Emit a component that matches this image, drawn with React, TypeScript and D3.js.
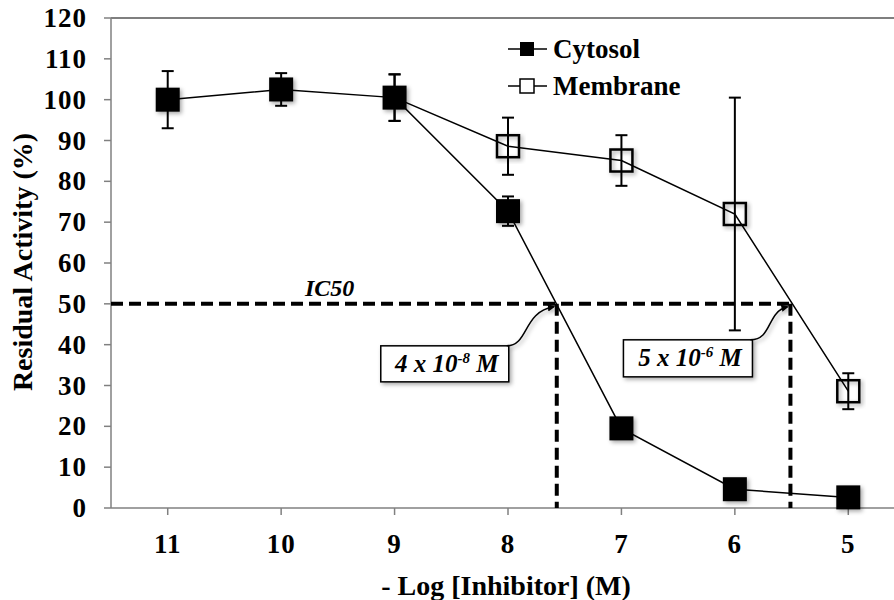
import * as d3 from "d3";

const logConc = [11, 10, 9, 8, 7, 6, 5];
const cytosol = [100, 102.5, 100.5, 72.7, 19.5, 4.6, 2.6];
const cytosolErr = [7, 4, 5.7, 3.6, 1.5, 1, 1];
const membraneX = [9, 8, 7, 6, 5];
const membrane = [100.5, 88.6, 85.1, 72, 28.6];
const membraneErr = [5.7, 7, 6.2, 28.5, 4.4];
const yTicks = [0, 10, 20, 30, 40, 50, 60, 70, 80, 90, 100, 110, 120];
const ic50Level = 50;
const ic50X = [7.57, 5.51];
const ic50Labels = [
  { base: "4 x 10", exp: "-8", unit: " M" },
  { base: "5 x 10", exp: "-6", unit: " M" },
];

const W = 894;
const H = 600;
const FONT = "'Liberation Serif', 'Times New Roman', serif";

export default function App() {
  const x = d3.scaleLinear().domain([11.5, 4.5]).range([111, 905]);
  const y = d3.scaleLinear().domain([0, 120]).range([508, 18]);

  const line = d3
    .line<[number, number]>()
    .x((d) => x(d[0]))
    .y((d) => y(d[1]));

  const cytoPts: [number, number][] = logConc.map((c, i) => [c, cytosol[i]]);
  const memPts: [number, number][] = membraneX.map((c, i) => [c, membrane[i]]);

  const y50 = y(ic50Level);
  const sq = 24;
  const sqM = 22;

  // annotation box offsets relative to the IC50 point
  const boxes = [
    { w: 128, h: 36, dx: -176, dy: 42 },
    { w: 129, h: 37, dx: -167, dy: 36 },
  ];

  return (
    <svg width={W} height={H} style={{ position: "absolute", left: 0, top: 0 }}>
      <defs>
        <filter id="shadow" x="-30%" y="-30%" width="160%" height="160%">
          <feDropShadow dx="2" dy="2" stdDeviation="2" floodColor="#000" floodOpacity="0.35" />
        </filter>
        <marker id="arrow" viewBox="0 0 10 10" refX="8" refY="5" markerWidth="5" markerHeight="5" orient="auto">
          <path d="M0,0 L10,5 L0,10 z" fill="#000" />
        </marker>
      </defs>
      <rect width={W} height={H} fill="#fff" />

      {/* axes */}
      <line x1={111} x2={W} y1={y(120)} y2={y(120)} stroke="#555" strokeWidth={1.5} />
      <line x1={111} x2={111} y1={y(120)} y2={y(0)} stroke="#808080" strokeWidth={1.5} />
      <line x1={111} x2={W} y1={y(0)} y2={y(0)} stroke="#808080" strokeWidth={1.5} />
      {yTicks.map((t) => (
        <g key={t}>
          <line x1={104} x2={111} y1={y(t)} y2={y(t)} stroke="#808080" strokeWidth={1.5} />
          <text
            x={87}
            y={y(t) + 9}
            textAnchor="end"
            fontFamily={FONT}
            fontWeight="bold"
            fontSize={27}
            letterSpacing={1}
          >
            {t}
          </text>
        </g>
      ))}
      {logConc.map((c) => (
        <g key={c}>
          <line x1={x(c)} x2={x(c)} y1={y(0)} y2={y(0) + 7} stroke="#808080" strokeWidth={1.5} />
          <text
            x={x(c)}
            y={553}
            textAnchor="middle"
            fontFamily={FONT}
            fontWeight="bold"
            fontSize={27}
            letterSpacing={1}
          >
            {c}
          </text>
        </g>
      ))}
      <text x={506} y={595} textAnchor="middle" fontFamily={FONT} fontWeight="bold" fontSize={28}>
        - Log [Inhibitor] (M)
      </text>
      <text
        transform={`translate(32,${262}) rotate(-90)`}
        textAnchor="middle"
        fontFamily={FONT}
        fontWeight="bold"
        fontSize={28}
      >
        Residual Activity (%)
      </text>

      {/* IC50 guide lines */}
      <line
        x1={111}
        x2={x(d3.min(ic50X)!)}
        y1={y50}
        y2={y50}
        stroke="#000"
        strokeWidth={4}
        strokeDasharray="12 6"
      />
      {ic50X.map((v) => (
        <line
          key={v}
          x1={x(v)}
          x2={x(v)}
          y1={y50}
          y2={y(0)}
          stroke="#000"
          strokeWidth={4}
          strokeDasharray="12 6"
        />
      ))}
      <text x={305} y={y50 - 8} fontFamily={FONT} fontStyle="italic" fontWeight="bold" fontSize={24}>
        IC50
      </text>

      {/* series lines */}
      <path d={line(cytoPts)!} fill="none" stroke="#000" strokeWidth={1.5} />
      <path d={line(memPts)!} fill="none" stroke="#000" strokeWidth={1.5} />

      {/* membrane error bars + markers */}
      {membraneX.map((c, i) => {
        const cx = x(c);
        const e = membraneErr[i];
        return (
          <g key={"m" + c}>
            <line x1={cx} x2={cx} y1={y(membrane[i] + e)} y2={y(membrane[i] - e)} stroke="#000" strokeWidth={2} />
            <line x1={cx - 6} x2={cx + 6} y1={y(membrane[i] + e)} y2={y(membrane[i] + e)} stroke="#000" strokeWidth={2} />
            <line x1={cx - 6} x2={cx + 6} y1={y(membrane[i] - e)} y2={y(membrane[i] - e)} stroke="#000" strokeWidth={2} />
            {c !== 9 && (
              <rect
                x={cx - sqM / 2}
                y={y(membrane[i]) - sqM / 2}
                width={sqM}
                height={sqM}
                fill="none"
                stroke="#000"
                strokeWidth={2.5}
                filter="url(#shadow)"
              />
            )}
          </g>
        );
      })}

      {/* cytosol error bars + markers */}
      {logConc.map((c, i) => {
        const cx = x(c);
        const e = cytosolErr[i];
        return (
          <g key={"c" + c}>
            <line x1={cx} x2={cx} y1={y(cytosol[i] + e)} y2={y(cytosol[i] - e)} stroke="#000" strokeWidth={2} />
            <line x1={cx - 6} x2={cx + 6} y1={y(cytosol[i] + e)} y2={y(cytosol[i] + e)} stroke="#000" strokeWidth={2} />
            <line x1={cx - 6} x2={cx + 6} y1={y(cytosol[i] - e)} y2={y(cytosol[i] - e)} stroke="#000" strokeWidth={2} />
            <rect
              x={cx - sq / 2}
              y={y(cytosol[i]) - sq / 2}
              width={sq}
              height={sq}
              fill="#000"
              filter="url(#shadow)"
            />
          </g>
        );
      })}

      {/* IC50 annotation boxes */}
      {ic50X.map((v, i) => {
        const tx = x(v);
        const b = boxes[i];
        const bx = tx + b.dx;
        const by = y50 + b.dy;
        const sx = bx + b.w - 2;
        const sy = by;
        const lab = ic50Labels[i];
        return (
          <g key={"a" + v}>
            <rect x={bx} y={by} width={b.w} height={b.h} fill="#fff" stroke="#000" strokeWidth={1.5} filter="url(#shadow)" />
            <text
              x={bx + b.w / 2 + 2}
              y={by + b.h / 2 + 8}
              textAnchor="middle"
              fontFamily={FONT}
              fontStyle="italic"
              fontWeight="bold"
              fontSize={25}
            >
              {lab.base}
              <tspan fontSize={15} dy={-9}>
                {lab.exp}
              </tspan>
              <tspan dy={9}>{lab.unit}</tspan>
            </text>
            <path
              d={`M${sx},${sy} C${sx + 22},${sy} ${sx + 16},${y50 + 8} ${tx - 3},${y50 + 3}`}
              fill="none"
              stroke="#000"
              strokeWidth={1.5}
              markerEnd="url(#arrow)"
              filter="url(#shadow)"
            />
          </g>
        );
      })}

      {/* legend */}
      <g fontFamily={FONT} fontWeight="bold" fontSize={27}>
        <line x1={508} x2={547} y1={49} y2={49} stroke="#000" strokeWidth={1.5} />
        <rect x={520} y={42} width={14} height={14} fill="#000" />
        <text x={553} y={58}>Cytosol</text>
        <line x1={508} x2={547} y1={86} y2={86} stroke="#000" strokeWidth={1.5} />
        <rect x={520} y={79} width={14} height={14} fill="#fff" stroke="#000" strokeWidth={1.5} />
        <text x={553} y={95}>Membrane</text>
      </g>
    </svg>
  );
}
